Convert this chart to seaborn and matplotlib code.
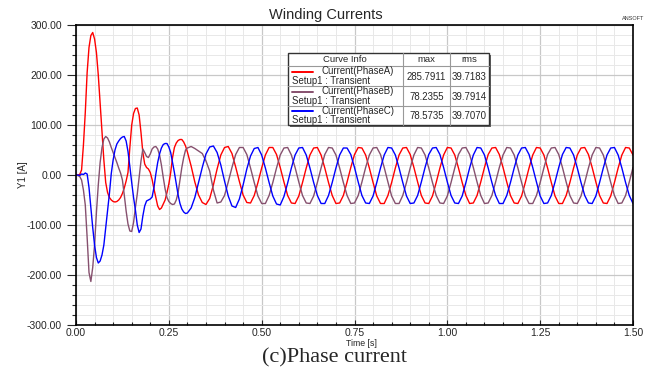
import numpy as np
import pandas as pd
import matplotlib
matplotlib.use('Agg')
import matplotlib.pyplot as plt
from matplotlib.patches import Rectangle
from matplotlib.ticker import MultipleLocator, FormatStrFormatter
import seaborn as sns

# sample times: 5 ms steps through the start-up transient, 10 ms afterwards
t_fine = np.linspace(0, 0.295, 60)
t_coarse = np.linspace(0.30, 1.50, 121)

# Current(PhaseA) [A]
phase_a_fine = [0, 0, 1, 10, 60, 125, 205, 255, 279, 285,
                272, 245, 200, 143, 85, 30, -15, -35, -45, -50,
                -53, -54, -53, -50, -45, -37, -26, -12, 5, 55,
                100, 123, 133, 134, 120, 85, 45, 22, 15, 12,
                5, -9, -28, -45, -62, -69, -66, -58, -50, -35,
                -18, 5, 35, 55, 64, 69, 71, 71, 66, 58]
phase_a_coarse = [46, 18, -14, -40, -55, -59, -47, -20, 12, 40,
                  55, 57, 43, 16, -13, -40, -55, -56, -41, -15, 14, 40,
                  55, 55, 41, 15, -14, -41, -56, -57, -42, -15, 14, 40,
                  54, 55, 40, 14, -15, -41, -57, -56, -41, -14, 15, 41,
                  55, 54, 40, 14, -15, -42, -57, -57, -41, -15, 14, 40,
                  54, 55, 41, 15, -14, -41, -56, -57, -42, -15, 14, 40,
                  55, 54, 40, 14, -15, -41, -57, -56, -41, -14, 15, 41,
                  54, 55, 41, 15, -14, -41, -56, -57, -42, -15, 14, 40,
                  55, 54, 40, 14, -15, -42, -57, -57, -41, -15, 14, 40,
                  54, 55, 41, 15, -14, -41, -56, -57, -42, -15, 14, 40,
                  55, 54, 40]

# Current(PhaseB) [A]
phase_b_fine = [0, -1, -3, -10, -30, -60, -125, -195, -213, -185,
                -140, -75, -20, 25, 55, 72, 77, 74, 66, 55,
                45, 35, 25, 14, 4, -10, -40, -72, -98, -112,
                -113, -95, -65, -38, -5, 28, 52, 45, 37, 35,
                42, 52, 56, 57, 52, 40, 20, -5, -28, -45,
                -53, -57, -59, -58, -50, -35, -10, 15, 35, 50]
phase_b_coarse = [54, 57, 53, 48, 43, 28, 8, -30, -56, -54,
                  -41, -14, 15, 41, 55, 55, 41, 14, -15, -42, -57, -57,
                  -41, -15, 14, 40, 54, 55, 40, 15, -14, -41, -56, -57,
                  -42, -15, 14, 41, 55, 54, 40, 14, -15, -41, -57, -56,
                  -41, -14, 15, 40, 54, 55, 41, 15, -14, -42, -57, -57,
                  -41, -15, 14, 40, 55, 54, 40, 14, -15, -41, -56, -57,
                  -42, -15, 14, 41, 54, 55, 41, 15, -14, -41, -57, -56,
                  -41, -14, 15, 40, 55, 54, 40, 14, -15, -42, -57, -57,
                  -41, -15, 14, 41, 54, 55, 41, 15, -14, -41, -56, -57,
                  -42, -15, 14, 40, 55, 54, 40, 14, -15, -41, -57, -56,
                  -41, -14, 15]

# Current(PhaseC) [A]
phase_c_fine = [0, 0, -1, 2, 1, 4, 2, -25, -65, -105,
                -140, -165, -176, -172, -160, -140, -105, -70, -37, 3,
                30, 50, 62, 68, 73, 76, 77, 68, 47, 17,
                -15, -45, -70, -100, -115, -108, -82, -62, -52, -50,
                -48, -44, -25, 2, 25, 42, 54, 61, 63, 63,
                56, 45, 25, 5, -18, -40, -57, -68, -74, -77]
phase_c_coarse = [-76, -66, -45, -15, 15, 42, 56, 58, 45, 20,
                  -12, -42, -62, -65, -48, -20, 12, 38, 53, 55, 40, 14,
                  -15, -42, -58, -60, -43, -16, 14, 40, 54, 55, 40, 14,
                  -15, -41, -57, -57, -41, -15, 14, 40, 54, 54, 41, 15,
                  -14, -41, -56, -57, -42, -15, 14, 40, 55, 54, 40, 14,
                  -15, -42, -57, -56, -41, -14, 15, 41, 54, 55, 41, 15,
                  -14, -41, -56, -57, -42, -15, 14, 40, 55, 54, 40, 14,
                  -15, -41, -57, -57, -41, -15, 14, 40, 54, 55, 41, 15,
                  -14, -42, -57, -56, -41, -14, 15, 41, 55, 54, 40, 14,
                  -15, -41, -56, -57, -42, -15, 14, 40, 54, 55, 40, 14,
                  -15, -41, -57]

curve_names = ['Current(PhaseA)', 'Current(PhaseB)', 'Current(PhaseC)']
curve_colors = ['#ff0000', '#86506e', '#0000ff']
max_values = ['285.7911', '78.2355', '78.5735']
rms_values = ['39.7183', '39.7914', '39.7070']
x_ticks = [0.00, 0.25, 0.50, 0.75, 1.00, 1.25, 1.50]
y_ticks = [-300, -200, -100, 0, 100, 200, 300]

time = np.concatenate([t_fine, t_coarse])
series = [phase_a_fine + phase_a_coarse,
          phase_b_fine + phase_b_coarse,
          phase_c_fine + phase_c_coarse]
df = pd.concat([pd.DataFrame({'Time [s]': time, 'Y1 [A]': vals, 'curve': name})
                for name, vals in zip(curve_names, series)], ignore_index=True)

sns.set_style('white')
plt.rcParams['font.family'] = ['Liberation Sans', 'DejaVu Sans']

W, H = 656, 370
fig = plt.figure(figsize=(W / 100, H / 100), dpi=100)
ax = fig.add_axes([76 / W, 1 - 325 / H, (633 - 76) / W, 300 / H])

sns.lineplot(data=df, x='Time [s]', y='Y1 [A]', hue='curve', hue_order=curve_names,
             palette=dict(zip(curve_names, curve_colors)), estimator=None, sort=False,
             legend=False, linewidth=1.0, ax=ax)

ax.set_xlim(0, 1.5)
ax.set_ylim(-300, 300)
ax.set_xticks(x_ticks)
ax.set_yticks(y_ticks)
ax.xaxis.set_major_formatter(FormatStrFormatter('%.2f'))
ax.yaxis.set_major_formatter(FormatStrFormatter('%.2f'))
ax.xaxis.set_minor_locator(MultipleLocator(0.05))
ax.yaxis.set_minor_locator(MultipleLocator(20))
ax.grid(which='major', color='#c8c8c8', linewidth=0.9)
ax.grid(which='minor', color='#e8e8e8', linewidth=0.7)
ax.set_axisbelow(True)
for s in ax.spines.values():
    s.set_color('black')
    s.set_linewidth(1.2)
ax.tick_params(axis='y', which='major', direction='out', length=6.5, width=0.8,
               labelsize=7.5, pad=3.5, left=True)
ax.tick_params(axis='y', which='minor', direction='out', length=3.2, width=0.8, left=True)
ax.tick_params(axis='x', which='major', direction='in', length=3.5, width=0.8,
               labelsize=7.5, pad=2, bottom=True)
ax.tick_params(axis='x', which='minor', direction='in', length=2.5, width=0.8, bottom=True)
ax.set_xlabel('')
ax.set_ylabel('')

# overlay in pixel coordinates for the texts and the curve info table
ov = fig.add_axes([0, 0, 1, 1], zorder=5)
ov.set_xlim(0, W)
ov.set_ylim(H, 0)
ov.axis('off')
ov.patch.set_alpha(0)

ov.text(326, 15.5, 'Winding Currents', fontsize=10.5, ha='center', va='center')
ov.text(633, 18, 'ANSOFT', fontsize=4, ha='center', va='center', color='#333333')
ov.text(22.5, 175, 'Y1 [A]', fontsize=7, rotation=90, ha='center', va='center')
ov.text(361, 343.5, 'Time [s]', fontsize=6.3, ha='center', va='center')
ov.text(335, 358, '(c)Phase current', fontsize=16, ha='center', va='center',
        family=['Liberation Serif', 'DejaVu Serif'])

# curve info table
tx0, tx1, ty0, ty1 = 288, 489, 53, 125
ov.add_patch(Rectangle((tx0 + 2, ty0 + 2), tx1 - tx0, ty1 - ty0, facecolor='#606060',
                       edgecolor='none'))
ov.add_patch(Rectangle((tx0, ty0), tx1 - tx0, ty1 - ty0, facecolor='white',
                       edgecolor='#333333', linewidth=1.0))
row_lines = [66, 86, 105.5]
for yy in row_lines:
    ov.plot([tx0, tx1], [yy, yy], color='#999999', linewidth=0.8)
for xx in [403, 450]:
    ov.plot([xx, xx], [ty0, ty1], color='#999999', linewidth=0.8)
ov.text(345, 59.5, 'Curve Info', fontsize=6.8, ha='center', va='center')
ov.text(426.5, 59.5, 'max', fontsize=6.8, ha='center', va='center')
ov.text(469.5, 59.5, 'rms', fontsize=6.8, ha='center', va='center')
row_tops = [66, 86, 105.5]
for top, name, col, mx, rms in zip(row_tops, curve_names, curve_colors, max_values, rms_values):
    ov.plot([292, 313], [top + 5.5, top + 5.5], color=col, linewidth=1.4)
    ov.text(322, top + 5.5, name, fontsize=6.9, ha='left', va='center')
    ov.text(292, top + 14.5, 'Setup1 : Transient', fontsize=6.9, ha='left', va='center')
    ov.text(426.5, top + 10.5, mx, fontsize=6.9, ha='center', va='center')
    ov.text(469.5, top + 10.5, rms, fontsize=6.9, ha='center', va='center')

fig.savefig('out.png', dpi=100)
